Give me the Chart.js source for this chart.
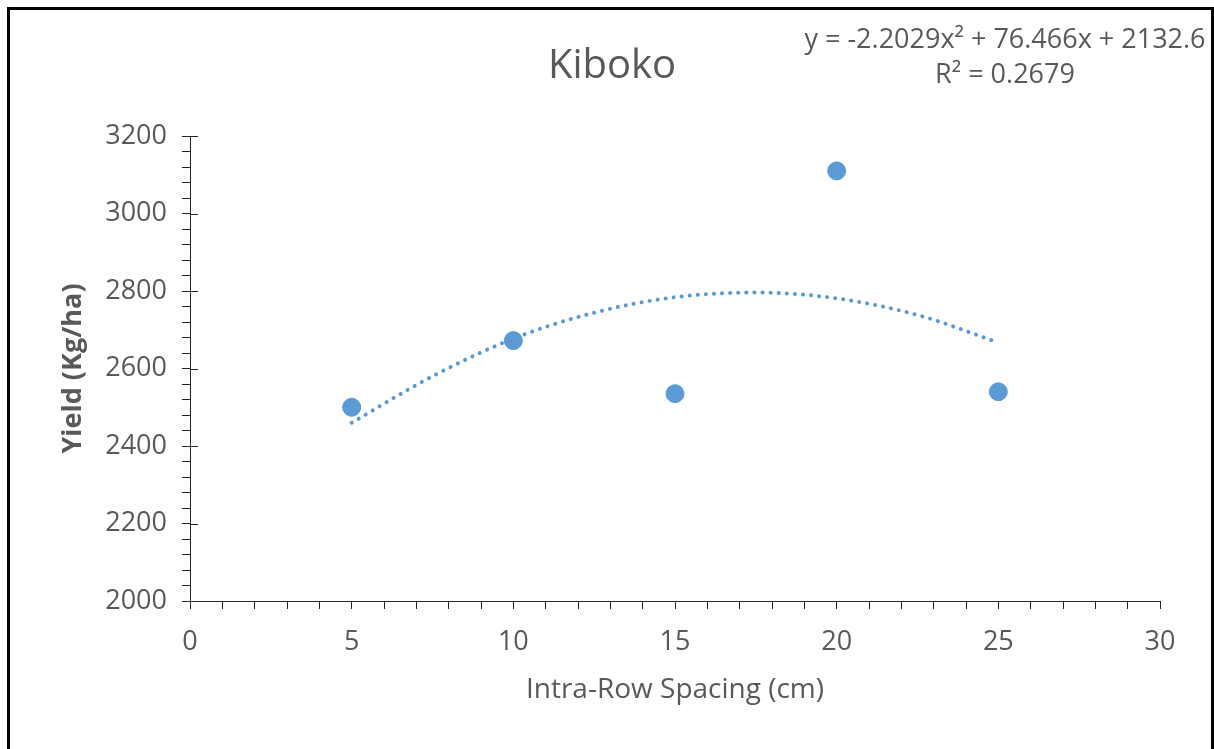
<!DOCTYPE html>
<html>
<head>
<meta charset="utf-8">
<script src="https://cdn.jsdelivr.net/npm/chart.js@4"></script>
<style>
    html, body { margin: 0; padding: 0; background: #fff; }
    #wrap { position: relative; width: 1214px; height: 749px; overflow: hidden; }
    #frame { position: absolute; left: 7px; top: 7px; width: 1201px; height: 760px; border: 3px solid #000; pointer-events: none; }
</style>
</head>
<body>
<div id="wrap">
    <canvas id="kibokoChart" width="1214" height="749"></canvas>
    <div id="frame"></div>
</div>
<script>
    // observed yields
    const spacing = [5, 10, 15, 20, 25];
    const yieldKg = [2500, 2672, 2535, 3110, 2540];

    // trendline
    const trendX = [5, 7.5, 10, 12.5, 15, 17.5, 20, 22.5, 25];
    const trendY = [2460, 2580, 2677, 2744, 2784, 2796, 2781, 2738, 2667];

    const titleText = 'Kiboko';
    const equationText = 'y = -2.2029x² + 76.466x + 2132.6';
    const r2Text = 'R² = 0.2679';
    const xTitle = 'Intra-Row Spacing (cm)';
    const yTitle = 'Yield (Kg/ha)';

    const blue = '#5B9BD5';
    const grey = '#595959';
    const axisColor = '#262626';
    const font = '"Open Sans", sans-serif';

    const textPlugin = {
        id: 'texts',
        afterDraw(chart) {
            const ctx = chart.ctx;
            const area = chart.chartArea;
            const yScale = chart.scales.y;
            ctx.save();
            // major ticks cross the axis on the y side
            ctx.strokeStyle = axisColor;
            ctx.lineWidth = 1;
            for (let v = 2000; v <= 3200; v += 200) {
                const py = Math.round(yScale.getPixelForValue(v)) + 0.5;
                ctx.beginPath();
                ctx.moveTo(area.left, py);
                ctx.lineTo(area.left + 8, py);
                ctx.stroke();
            }

            ctx.fillStyle = grey;
            ctx.textAlign = 'center';
            ctx.textBaseline = 'middle';
            ctx.font = '40px ' + font;
            ctx.fillText(titleText, 612, 67);

            ctx.font = '27px ' + font;
            ctx.fillText(equationText, 1005, 40);
            ctx.fillText(r2Text, 1005, 75);

            ctx.font = '28px ' + font;
            ctx.fillText(xTitle, (area.left + area.right) / 2, 690);

            ctx.font = 'bold 27px ' + font;
            ctx.translate(73, (area.top + area.bottom) / 2);
            ctx.rotate(-Math.PI / 2);
            ctx.fillText(yTitle, 0, 0);
            ctx.restore();
        }
    };

    const ctx = document.getElementById('kibokoChart').getContext('2d');

    new Chart(ctx, {
        type: 'scatter',
        data: {
            datasets: [{
                label: 'Yield',
                data: spacing.map((x, i) => ({ x: x, y: yieldKg[i] })),
                backgroundColor: blue,
                borderColor: blue,
                pointRadius: 9,
                pointHoverRadius: 9,
                order: 1
            }, {
                label: 'Poly. (Yield)',
                type: 'line',
                data: trendX.map((x, i) => ({ x: x, y: trendY[i] })),
                borderColor: blue,
                borderWidth: 4,
                borderDash: [0.1, 8],
                borderCapStyle: 'round',
                cubicInterpolationMode: 'monotone',
                pointRadius: 0,
                fill: false,
                order: 2
            }]
        },
        options: {
            responsive: false,
            animation: false,
            layout: { padding: { left: 0, right: 54, top: 136, bottom: 0 } },
            plugins: {
                legend: { display: false },
                tooltip: { enabled: false }
            },
            scales: {
                x: {
                    type: 'linear',
                    min: 0,
                    max: 30,
                    afterFit: function(scale) { scale.height = 148; },
                    ticks: {
                        stepSize: 1,
                        autoSkip: false,
                        maxRotation: 0,
                        color: grey,
                        padding: 17,
                        font: { family: font, size: 27 },
                        callback: function(v) { return v % 5 === 0 ? String(v) : ''; }
                    },
                    grid: { drawOnChartArea: false, color: axisColor, tickLength: 8 },
                    border: { color: axisColor, width: 1 }
                },
                y: {
                    min: 2000,
                    max: 3200,
                    afterFit: function(scale) { scale.width = 190; },
                    ticks: {
                        stepSize: 40,
                        autoSkip: false,
                        color: grey,
                        padding: 15,
                        font: { family: font, size: 27 },
                        callback: function(v) { return v % 200 === 0 ? String(v) : ''; }
                    },
                    grid: { drawOnChartArea: false, color: axisColor, tickLength: 8 },
                    border: { color: axisColor, width: 1 }
                }
            }
        },
        plugins: [textPlugin]
    });
</script>
</body>
</html>
